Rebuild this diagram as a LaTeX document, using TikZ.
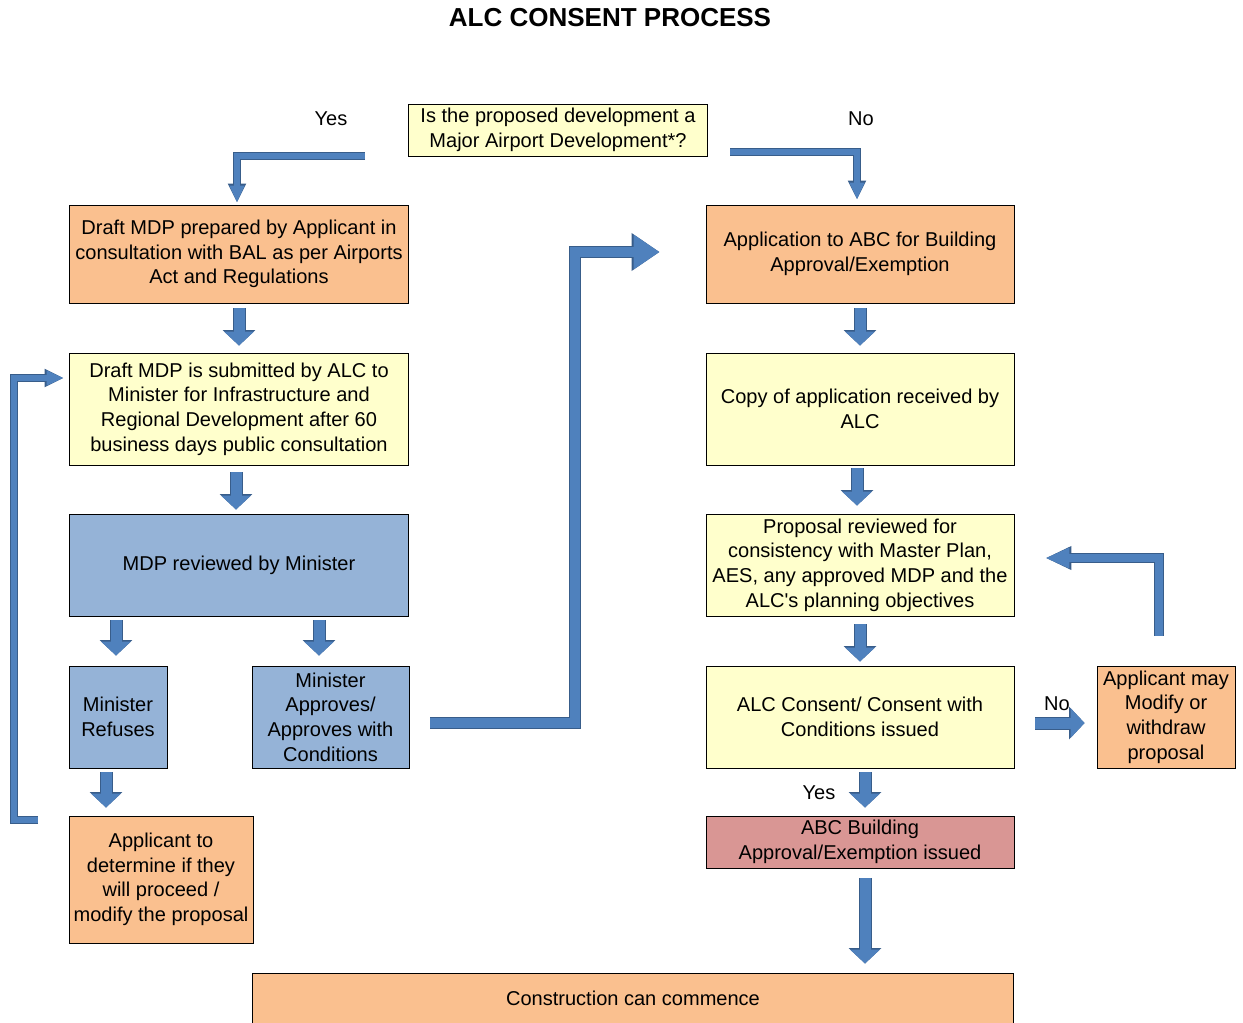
\documentclass[tikz,border=0pt]{standalone}
\usepackage{fontspec}
\setmainfont{Liberation Sans}
\usetikzlibrary{arrows.meta,calc}

\definecolor{boxorange}{RGB}{250,192,143}
\definecolor{boxyellow}{RGB}{255,255,204}
\definecolor{boxblue}{RGB}{149,179,215}
\definecolor{boxred}{RGB}{217,150,148}
\definecolor{arrblue}{RGB}{79,129,189}
\definecolor{arredge}{RGB}{56,93,138}

\begin{document}
\begin{tikzpicture}[x=0.02cm,y=-0.02cm,
    txt/.style={font=\fontsize{11.4}{14}\selectfont},
    box/.style={txt, draw=black, line width=0.55pt, align=center, inner sep=1pt},
    orangebox/.style={box, fill=boxorange},
    yellowbox/.style={box, fill=boxyellow},
    bluebox/.style={box, fill=boxblue},
    redbox/.style={box, fill=boxred},
    fat/.style={draw=arrblue, line width=0.22cm, -{Triangle[width=0.58cm,length=0.28cm]},
      preaction={draw=arredge, line width=0.26cm, -{Triangle[width=0.64cm,length=0.31cm]}}},
    bent/.style={draw=arrblue, line width=0.13cm, line join=miter, -{Triangle[width=0.28cm,length=0.34cm]},
      preaction={draw=arredge, line width=0.17cm, line join=miter, -{Triangle[width=0.34cm,length=0.38cm]}}},
    back/.style={draw=arrblue, line width=0.17cm, line join=miter, -{Triangle[width=0.38cm,length=0.48cm]},
      preaction={draw=arredge, line width=0.21cm, line join=miter, -{Triangle[width=0.44cm,length=0.52cm]}}},
    big/.style={draw=arrblue, line width=0.2cm, line join=miter, -{Triangle[width=0.66cm,length=0.52cm]},
      preaction={draw=arredge, line width=0.24cm, line join=miter, -{Triangle[width=0.72cm,length=0.56cm]}}},
  ]
  \useasboundingbox (0,0) rectangle (1243,1022);
  \clip (0,0) rectangle (1243,1022);

  \node[font=\fontsize{14.8}{17}\selectfont\bfseries] (title) at (610,18) {ALC CONSENT PROCESS};

  % question
  \node[yellowbox, minimum width=6cm, minimum height=1.04cm] (q) at (558,130)
    {Is the proposed development a\\Major Airport Development*?};
  \node[txt] (yeslabel) at (331,119) {Yes};
  \node[txt] (nolabel) at (861,119) {No};

  % left column
  \node[orangebox, minimum width=6.8cm, minimum height=1.96cm] (a1) at (239,254)
    {Draft MDP prepared by Applicant in\\consultation with BAL as per Airports\\Act and Regulations};
  \node[yellowbox, minimum width=6.8cm, minimum height=2.24cm] (a2) at (239,409)
    {Draft MDP is submitted by ALC to\\Minister for Infrastructure and\\Regional Development after 60\\business days public consultation};
  \node[bluebox, minimum width=6.8cm, minimum height=2.04cm] (a3) at (239,565) {MDP reviewed by Minister};
  \node[bluebox, minimum width=1.96cm, minimum height=2.04cm] (a4) at (118,717) {Minister\\Refuses};
  \node[bluebox, minimum width=3.14cm, minimum height=2.04cm] (a5) at (330.5,717)
    {Minister\\Approves/\\Approves with\\Conditions};
  \node[orangebox, minimum width=3.68cm, minimum height=2.54cm] (a6) at (161,879.5)
    {Applicant to\\determine if they\\will proceed /\\modify the proposal};

  % right column
  \node[orangebox, minimum width=6.16cm, minimum height=1.96cm] (b1) at (860,254)
    {Application to ABC for Building\\Approval/Exemption};
  \node[yellowbox, minimum width=6.16cm, minimum height=2.24cm] (b2) at (860,409)
    {Copy of application received by\\ALC};
  \node[yellowbox, minimum width=6.16cm, minimum height=2.04cm] (b3) at (860,565)
    {Proposal reviewed for\\consistency with Master Plan,\\AES, any approved MDP and the\\ALC\textquotesingle s planning objectives};
  \node[yellowbox, minimum width=6.16cm, minimum height=2.04cm] (b4) at (860,717)
    {ALC Consent/ Consent with\\Conditions issued};
  \node[orangebox, minimum width=2.76cm, minimum height=2.04cm] (c) at (1166,717)
    {Applicant may\\Modify or\\withdraw\\proposal};
  \node[redbox, minimum width=6.16cm, minimum height=1.04cm] (b5) at (860,842)
    {ABC Building\\Approval/Exemption issued};
  \node[orangebox, minimum width=15.24cm, minimum height=1.02cm] (d) at (633,998.5)
    {Construction can commence};
  \node[txt] (yes2) at (819,793) {Yes};
  \node[txt] (no2) at (1057,704) {No};

  % straight arrows
  \draw[fat, shorten <=0.1cm, shorten >=0.14cm] (a1) -- (a2);
  \draw[fat, shorten <=0.14cm, shorten >=0.08cm] ($(a2.south)+(-3,0)$) -- ($(a3.north)+(-3,0)$);
  \draw[fat, shorten <=0.08cm, shorten >=0.2cm] ($(a3.south)+(-123,0)$) -- ($(a4.north)+(-2,0)$);
  \draw[fat, shorten <=0.08cm, shorten >=0.2cm] ($(a3.south)+(80,0)$) -- ($(a5.north)+(-11.5,0)$);
  \draw[fat, shorten <=0.08cm, shorten >=0.16cm] ($(a4.south)+(-12,0)$) -- ($(a6.north)+(-55,0)$);
  \draw[fat, shorten <=0.1cm, shorten >=0.14cm] (b1) -- (b2);
  \draw[fat, shorten <=0.06cm, shorten >=0.16cm] ($(b2.south)+(-3,0)$) -- ($(b3.north)+(-3,0)$);
  \draw[fat, shorten <=0.16cm, shorten >=0.08cm] (b3) -- (b4);
  \draw[fat, shorten <=0.08cm, shorten >=0.16cm] ($(b4.south)+(5,0)$) -- ($(b5.north)+(5,0)$);
  \coordinate (b5x) at ($(b5.south)+(5,0)$);
  \draw[fat, shorten <=0.2cm, shorten >=0.18cm] (b5x) -- (b5x |- d.north);
  \coordinate (b4r) at ($(b4.east)+(0,6)$);
  \draw[fat, shorten <=0.42cm, shorten >=0.24cm] (b4r) -- (b4r -| c.west);

  % bent arrows
  \coordinate (yesstart) at (365,156);
  \draw[bent, shorten >=0.04cm] (yesstart) -| ($(a1.north)+(-2,0)$);
  \coordinate (nostart) at (730,152);
  \draw[bent, shorten >=0.1cm] (nostart) -| ($(b1.north)+(-3,0)$);
  \coordinate (loopstart) at (38,820);
  \coordinate (loopcorner) at (14,820);
  \draw[bent, shorten >=0.1cm] (loopstart) -- (loopcorner) |- ($(a2.west)+(0,-31)$);
  \coordinate (bigbend) at (575,252);
  \draw[big] ($(a5.east)+(21,6)$) -| (bigbend) -- ($(b1.west)+(-46,-2)$);
  \draw[back] ($(c.north)+(-7,-30)$) |- ($(b3.east)+(31,-7)$);
\end{tikzpicture}
\end{document}
